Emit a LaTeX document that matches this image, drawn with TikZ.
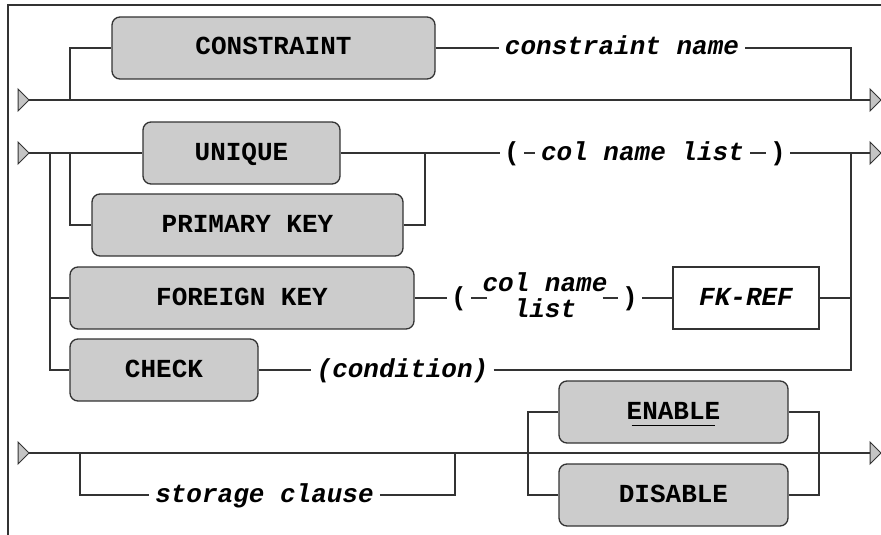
\documentclass[tikz,border=0pt]{standalone}
\usepackage{fontspec}
\newfontfamily\railfont{Liberation Mono}
\usepackage{xcolor}
\usetikzlibrary{positioning}

\definecolor{boxfill}{HTML}{CCCCCC}
\definecolor{railcol}{HTML}{333333}
\definecolor{markfill}{HTML}{C4C4C4}

% entry/exit mark, apex at the given coordinate
\newcommand{\railmark}[1]{\filldraw[mark tri] (#1) -- ++(-11,-11) -- ++(0,22) -- cycle;}
% underlined keyword (default choice)
\newcommand{\dflt}[1]{\setbox0\hbox{#1}\rlap{\kern5pt\rule[-7pt]{\dimexpr\wd0-10pt\relax}{1.3pt}}\box0}

\begin{document}
\begin{tikzpicture}[x=1pt, y=-1pt,
  rail/.style={draw=railcol, line width=1.1pt},
  mark tri/.style={fill=markfill, draw=railcol, line width=1pt},
  kw/.style={draw=railcol, fill=boxfill, rounded corners=8pt, line width=1.3pt,
    minimum height=62pt, text height=18pt, text depth=4pt,
    font=\railfont\bfseries\fontsize{26}{27}\selectfont},
  fkbox/.style={draw=railcol, fill=white, line width=1.6pt, minimum height=62pt,
    text height=18pt, text depth=4pt,
    font=\railfont\bfseries\itshape\fontsize{26}{27}\selectfont},
  lbl/.style={inner xsep=6pt, text height=18pt, text depth=4pt,
    font=\railfont\bfseries\itshape\fontsize{26}{27}\selectfont},
  par/.style={inner xsep=4pt, text height=18pt, text depth=4pt,
    font=\railfont\bfseries\fontsize{26}{27}\selectfont}]

  \useasboundingbox (0,0) rectangle (881,535);

  % Frame
  \draw[rail] (881,5) -- (8,5) -- (8,535);

  % Define coordinates for rail ends and junctions
  \coordinate (in1) at (29,100);  \coordinate (out1) at (881,100);
  \coordinate (in2) at (29,153);  \coordinate (out2) at (881,153);
  \coordinate (in3) at (29,453);  \coordinate (out3) at (881,453);
  \coordinate (b1) at (70,100);   \coordinate (j1) at (851,100);
  \coordinate (b2) at (70,153);   \coordinate (b3) at (50,153);
  \coordinate (j2) at (425,153);  \coordinate (j3) at (851,153);
  \coordinate (b4) at (80,453);   \coordinate (j4) at (455,453);
  \coordinate (b5) at (528,453);  \coordinate (j5) at (819,453);

  % Define nodes
  \node[kw, minimum width=323pt] (cons) at (273.5,48) {CONSTRAINT};
  \node[lbl] (cname) at (622,48) {constraint name};

  \node[kw, minimum width=197pt] (unique) at (241.5,153) {UNIQUE};
  \node[kw, minimum width=311pt] (pk) at (247.5,225) {PRIMARY KEY};
  \node[par] (lp1) at (512,153) {(};
  \node[lbl] (cnl1) at (642.5,153) {col name list};
  \node[par] (rp1) at (778,153) {)};

  \node[kw, minimum width=344pt] (fk) at (242,298) {FOREIGN KEY};
  \node[par] (lp2) at (459,298) {(};
  \node[lbl, inner xsep=-5pt, align=center] (cnl2) at (545,310) {col name\\[-1pt]list};
  \node[par] (rp2) at (630,298) {)};
  \node[fkbox, minimum width=146pt] (fkref) at (746,298) {FK-REF};

  \node[kw, minimum width=188pt] (check) at (164,370) {CHECK};
  \node[lbl, inner xsep=5pt] (cond) at (402.5,370) {(condition)};

  \node[lbl] (stor) at (264.5,495) {storage clause};
  \node[kw, minimum width=229pt] (enable) at (673.5,412) {\dflt{ENABLE}};
  \node[kw, minimum width=229pt] (disable) at (673.5,495) {DISABLE};

  % Draw rails between nodes
  \draw[rail] (in1) -- (out1);
  \draw[rail] (b1) |- (cons);
  \draw[rail] (cons) -- (cname);
  \draw[rail] (cname) -| (j1);

  \draw[rail] (in2) -- (unique);
  \draw[rail] (b2) |- (pk);
  \draw[rail] (b3) |- (fk);
  \draw[rail] (b3) |- (check);
  \draw[rail] (pk) -| (j2);
  \draw[rail] (unique) -- (lp1);
  \draw[rail] (lp1) -- (cnl1);
  \draw[rail] (cnl1) -- (rp1);
  \draw[rail] (rp1) -- (out2);

  \draw[rail] (fk) -- (lp2);
  \draw[rail] (lp2) -- (lp2 -| cnl2.west);
  \draw[rail] (rp2 -| cnl2.east) -- (rp2);
  \draw[rail] (rp2) -- (fkref);
  \draw[rail] (fkref) -- (fkref -| j3);
  \draw[rail] (check) -- (cond);
  \draw[rail] (cond) -| (j3);

  \draw[rail] (in3) -- (out3);
  \draw[rail] (b4) |- (stor);
  \draw[rail] (stor) -| (j4);
  \draw[rail] (b5) |- (enable);
  \draw[rail] (b5) |- (disable);
  \draw[rail] (enable) -| (j5);
  \draw[rail] (disable) -| (j5);

  % Entry and exit marks
  \railmark{in1} \railmark{out1}
  \railmark{in2} \railmark{out2}
  \railmark{in3} \railmark{out3}
\end{tikzpicture}
\end{document}
